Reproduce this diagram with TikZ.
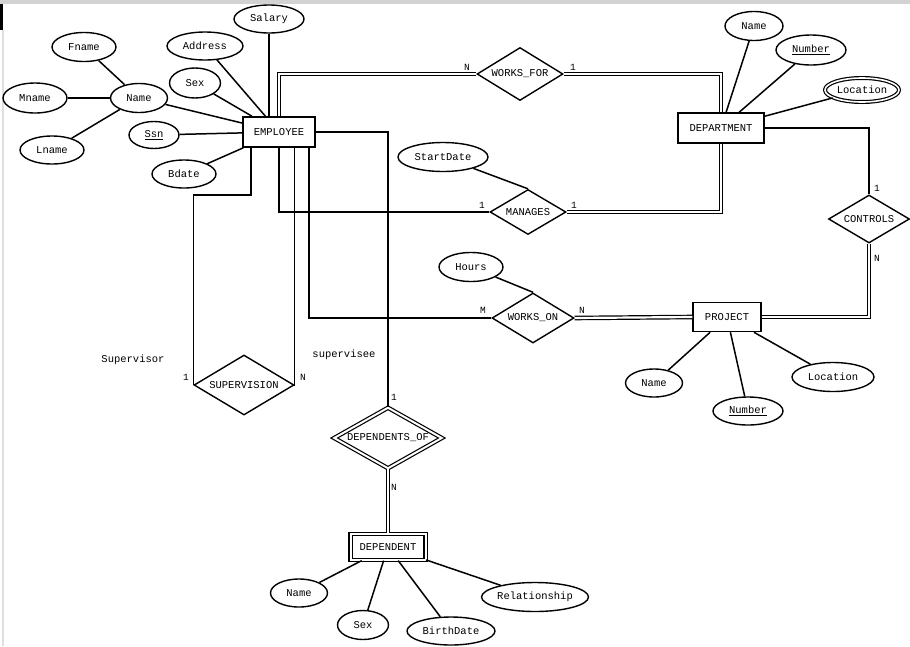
\documentclass[tikz,border=0pt]{standalone}
\usepackage{fontspec}
\setmonofont{Liberation Mono}
\usetikzlibrary{shapes.geometric}

\begin{document}
\begin{tikzpicture}[x=1pt,y=-1pt,
  font=\ttfamily\fontsize{10.5}{12}\selectfont,
  ent/.style={draw,line width=1.5pt,inner sep=0pt},
  weakent/.style={ent,double,double distance=2pt,line width=1.2pt},
  rel/.style={draw,diamond,aspect=2,inner sep=0pt,line width=1.4pt},
  weakrel/.style={rel,double,double distance=2pt,line width=1.2pt},
  attr/.style={draw,ellipse,inner sep=0pt,line width=1.4pt},
  multi/.style={attr,double,double distance=1.6pt,line width=1.2pt},
  link/.style={line width=1.5pt},
  total/.style={double,double distance=2.2pt,line width=1.2pt},
  card/.style={font=\ttfamily\fontsize{9.5}{10}\selectfont,inner sep=0pt}]
\useasboundingbox (0,0) rectangle (910,646);
\fill[white] (0,0) rectangle (910,646);
% window frame of the screenshot
\fill[gray!35] (0,0) rectangle (910,4);
\fill[black] (0,4) rectangle (3,30);
\fill[gray!25] (2,30) rectangle (3.5,646);

% entities
\node[ent,minimum width=72pt,minimum height=30pt] (employee) at (279,132) {EMPLOYEE};
\node[ent,minimum width=86pt,minimum height=30pt] (department) at (721,128) {DEPARTMENT};
\node[ent,minimum width=68pt,minimum height=29pt] (project) at (727,317) {PROJECT};
\node[weakent,minimum width=75pt,minimum height=26pt] (dependent) at (388,547) {DEPENDENT};

% relationships
\node[rel,minimum width=86pt,minimum height=53pt] (worksfor) at (520,74) {WORKS\_FOR};
\node[rel,minimum width=76pt,minimum height=45pt] (manages) at (528,212) {MANAGES};
\node[rel,minimum width=81pt,minimum height=48pt] (controls) at (869,219) {CONTROLS};
\node[rel,minimum width=82pt,minimum height=50pt] (workson) at (533,318) {WORKS\_ON};
\node[rel,minimum width=100pt,minimum height=60pt] (supervision) at (244,385) {SUPERVISION};
\node[weakrel,minimum width=108pt,minimum height=61pt] (dependentsof) at (388,438) {DEPENDENTS\_OF};

% attributes of EMPLOYEE
\node[attr,minimum width=70pt,minimum height=28pt] (salary) at (269,19) {Salary};
\node[attr,minimum width=76pt,minimum height=28pt] (address) at (205,46) {Address};
\node[attr,minimum width=51pt,minimum height=30pt] (esex) at (195,83) {Sex};
\node[attr,minimum width=57pt,minimum height=29pt] (ename) at (139,98) {Name};
\node[attr,minimum width=64pt,minimum height=29pt] (fname) at (84,47) {Fname};
\node[attr,minimum width=64pt,minimum height=30pt] (mname) at (35,98) {Mname};
\node[attr,minimum width=64pt,minimum height=28pt] (lname) at (52,150) {Lname};
\node[attr,minimum width=50pt,minimum height=27pt] (ssn) at (154,135) {\underline{Ssn}};
\node[attr,minimum width=64pt,minimum height=28pt] (bdate) at (184,174) {Bdate};

% attributes of DEPARTMENT
\node[attr,minimum width=58pt,minimum height=29pt] (dname) at (754,26) {Name};
\node[attr,minimum width=70pt,minimum height=30pt] (dnumber) at (811,50) {\underline{Number}};
\node[multi,minimum width=74pt,minimum height=24pt] (dlocation) at (862,90) {Location};

% attributes of PROJECT
\node[attr,minimum width=57pt,minimum height=28pt] (pname) at (654,383) {Name};
\node[attr,minimum width=70pt,minimum height=28pt] (pnumber) at (748,411) {\underline{Number}};
\node[attr,minimum width=82pt,minimum height=29pt] (plocation) at (833,377) {Location};

% attributes of DEPENDENT
\node[attr,minimum width=57pt,minimum height=28pt] (depname) at (299,593) {Name};
\node[attr,minimum width=51pt,minimum height=29pt] (depsex) at (363,625) {Sex};
\node[attr,minimum width=88pt,minimum height=28pt] (birthdate) at (451,631) {BirthDate};
\node[attr,minimum width=106pt,minimum height=29pt] (relationship) at (535,597) {Relationship};

% attributes of relationships
\node[attr,minimum width=90pt,minimum height=29pt] (startdate) at (443,157) {StartDate};
\node[attr,minimum width=64pt,minimum height=29pt] (hours) at (471,267) {Hours};

% attribute links
\draw[link] (salary) -- (salary |- employee.north);
\draw[link] (address) -- (employee);
\draw[link] (esex) -- (employee);
\draw[link] (ename) -- (employee);
\draw[link] (ssn) -- (employee);
\draw[link] (bdate) -- (employee);
\draw[link] (fname) -- (ename);
\draw[link] (mname) -- (ename);
\draw[link] (lname) -- (ename);
\draw[link] (dname) -- (department);
\draw[link] (dnumber) -- (department);
\draw[link] (dlocation) -- (department);
\draw[link] (pname) -- (project);
\draw[link] (pnumber) -- (project);
\draw[link] (plocation) -- (project);
\draw[link] (depname) -- (dependent);
\draw[link] (depsex) -- (dependent);
\draw[link] (birthdate) -- (dependent);
\draw[link] (relationship) -- (dependent);
\draw[link] (startdate) -- (manages.north);
\draw[link] (hours) -- (workson.north);

% relationship links
\draw[total] (employee.north) |- (worksfor.west);
\draw[total] (worksfor.east) -| (department.north);
\draw[total] (department.south) |- (manages.east);
\draw[link] (employee.south) |- (manages.west);
\draw[link] (department.east) -| (controls.north);
\draw[total] (project.east) -| (controls.south);
\draw[link] ([xshift=-7pt]employee.south east) |- (workson.west);
\draw[total] (workson.east) -- (project.west);
\draw[link] ([xshift=8.5pt]employee.south west) -- ++(0,47) -| (supervision.west);
\draw[link] ([xshift=-21.5pt]employee.south east) |- (supervision.east);
\draw[link] (employee.east) -| (dependentsof.north);
\draw[total] (dependentsof.south) -- (dependent.north);

% cardinalities and roles
\node[card] (c1) at (467,67) {N};
\node[card] (c2) at (573,67) {1};
\node[card] (c3) at (482,205) {1};
\node[card] (c4) at (574,205) {1};
\node[card] (c5) at (877,188) {1};
\node[card] (c6) at (877,258) {N};
\node[card] (c7) at (483,310) {M};
\node[card] (c8) at (582,310) {N};
\node[card] (c9) at (186,377) {1};
\node[card] (c10) at (303,377) {N};
\node[card] (c11) at (394,397) {1};
\node[card] (c12) at (394,487) {N};
\node[card,font=\ttfamily\fontsize{10.5}{12}\selectfont] (supervisor) at (133,360) {Supervisor};
\node[card,font=\ttfamily\fontsize{10.5}{12}\selectfont] (supervisee) at (344,355) {supervisee};
\end{tikzpicture}
\end{document}
